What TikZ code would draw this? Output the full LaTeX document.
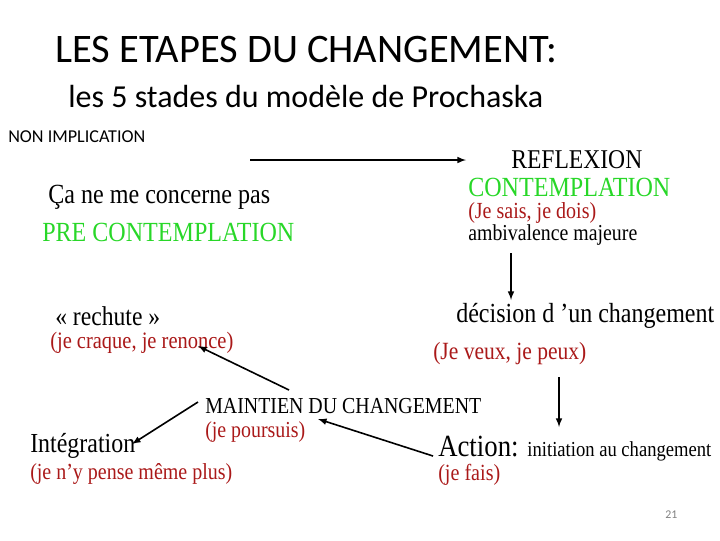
\documentclass[tikz,border=0pt]{standalone}
\usepackage{fontspec}
\usepackage{graphicx}
\setmainfont{Liberation Serif}
\newfontfamily\carl{Carlito}
\definecolor{gr}{RGB}{40,215,40}
\definecolor{rd}{RGB}{170,25,25}
\newcommand\fw[2]{\resizebox{#1\dimexpr0.75pt\relax}{!}{#2}}
\newcommand\fs[2]{\scalebox{1}[1.15]{\resizebox{#1\dimexpr0.75pt\relax}{!}{#2}}}
\begin{document}
\begin{tikzpicture}[x=0.75pt,y=-0.75pt,
  t/.style={anchor=west,inner sep=0pt},
  ar/.style={-latex,line width=1.2pt}]
\useasboundingbox (0,0) rectangle (720,540);
\node[t] (title) at (55,50) {\fw{502}{\carl LES ETAPES DU CHANGEMENT:}};
\node[t] (sub) at (68,96) {\fw{475}{\carl les 5 stades du modèle de Prochaska}};
\node[t] (non) at (8,137) {\fw{137}{\carl NON IMPLICATION}};
\node[t] (ca) at (48,197) {\fs{222}{Ça ne me concerne pas}};
\node[t,text=gr] (pre) at (42,232) {\fs{252}{PRE CONTEMPLATION}};
\node[t] (refl) at (511,160) {\fs{131}{REFLEXION}};
\node[t,text=gr] (cont) at (468,187) {\fs{202}{CONTEMPLATION}};
\node[t,text=rd] (sais) at (468,213) {\fs{128}{(Je sais, je dois)}};
\node[t] (amb) at (468,235) {\fs{169}{ambivalence majeure}};
\node[t] (rech) at (55,316) {\fs{105}{« rechute »}};
\node[t,text=rd] (craq) at (50,343) {\fs{183}{(je craque, je renonce)}};
\node[t] (dec) at (456,316) {\fs{258}{décision d ’un changement}};
\node[t,text=rd] (veux) at (433,354) {\fs{153}{(Je veux, je peux)}};
\node[t] (maint) at (205,406) {\fs{276}{MAINTIEN DU CHANGEMENT}};
\node[t,text=rd] (pours) at (205,432) {\fs{100}{(je poursuis)}};
\node[t] (integ) at (30,446) {\fs{105}{Intégration}};
\node[t,text=rd] (pense) at (30,474) {\fs{202}{(je n’y pense même plus)}};
\node[t] (act) at (438,449) {\fs{273}{\Large Action: \normalsize initiation au changement}};
\node[t,text=rd] (fais) at (438,475) {\fs{62}{(je fais)}};
\node[t,text=gray] (num) at (665,515) {\fw{12}{\carl 21}};
\coordinate (a1) at (250,160); \coordinate (a2) at (466,160);
\coordinate (b1) at (511,253); \coordinate (b2) at (511,300);
\coordinate (c1) at (289,390); \coordinate (c2) at (198,346);
\coordinate (d1) at (198,402); \coordinate (d2) at (132,444);
\coordinate (e1) at (433,456); \coordinate (e2) at (318,419);
\coordinate (f1) at (559,377); \coordinate (f2) at (559,427);
\draw[ar] (a1) -- (a2);
\draw[ar] (b1) -- (b2);
\draw[ar] (c1) -- (c2);
\draw[ar] (d1) -- (d2);
\draw[ar] (e1) -- (e2);
\draw[ar] (f1) -- (f2);
\end{tikzpicture}
\end{document}
